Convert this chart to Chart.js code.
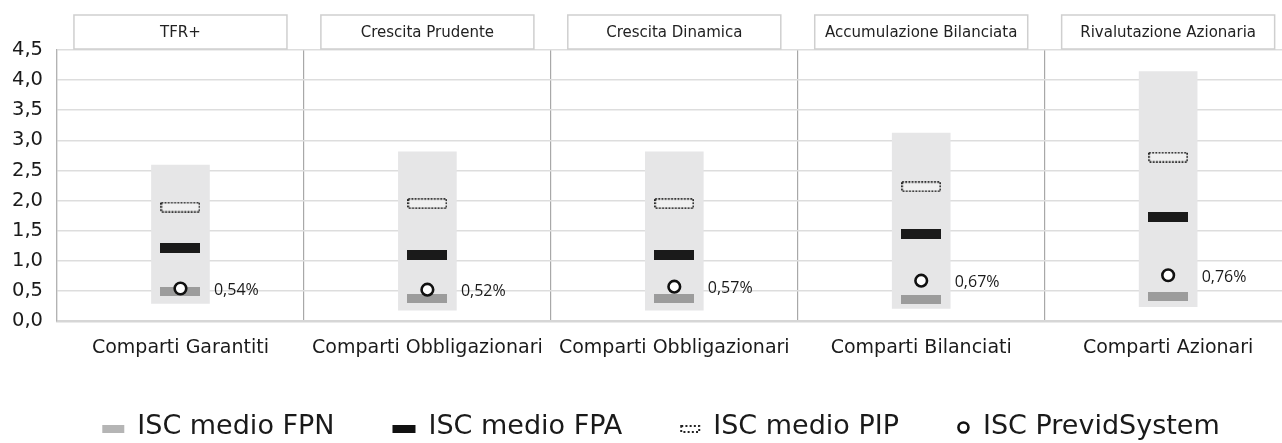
<!DOCTYPE html>
<html><head><meta charset="utf-8">
<script src="https://cdn.jsdelivr.net/npm/chart.js@4.4.1/dist/chart.umd.min.js"></script>
<style>
html,body{margin:0;padding:0;background:#fff;overflow:hidden}
#wrap{width:1300px;height:443px;position:relative}
</style>
</head><body>
<div id="wrap"><canvas id="c"></canvas></div>
<script>
const categories = ['Comparti Garantiti','Comparti Obbligazionari','Comparti Obbligazionari','Comparti Bilanciati','Comparti Azionari'];
const fundNames = ['TFR+','Crescita Prudente','Crescita Dinamica','Accumulazione Bilanciata','Rivalutazione Azionaria'];
const rangeLow  = [0.29, 0.18, 0.18, 0.21, 0.24];
const rangeHigh = [2.59, 2.81, 2.81, 3.12, 4.14];
const iscFPN = [0.49, 0.38, 0.38, 0.35, 0.40];
const iscFPA = [1.22, 1.09, 1.09, 1.45, 1.73];
const iscPIP = [1.89, 1.95, 1.95, 2.23, 2.72];
const iscPrevidSystem = [0.54, 0.52, 0.57, 0.67, 0.76];
const yTicks = [0, 0.5, 1, 1.5, 2, 2.5, 3, 3.5, 4, 4.5];
const legendLabels = ['ISC medio FPN','ISC medio FPA','ISC medio PIP','ISC PrevidSystem'];

const FONT = '"DejaVu Sans", "Liberation Sans", Arial, sans-serif';
const fmt = v => v.toFixed(2).replace('.', ',');

function rectImg(w, h, color) {
  const c = document.createElement('canvas'); c.width = w; c.height = h;
  const g = c.getContext('2d'); g.fillStyle = color; g.fillRect(0, 0, w, h); return c;
}
function dottedImg(w, h, fill) {
  const c = document.createElement('canvas'); c.width = w; c.height = h;
  const g = c.getContext('2d');
  if (fill) { g.fillStyle = fill; g.fillRect(0, 0, w, h); }
  g.strokeStyle = '#222'; g.lineWidth = 1.8; g.setLineDash([1.8, 1.4]);
  g.strokeRect(0.9, 0.9, w - 1.8, h - 1.8); return c;
}
const fpnImg = rectImg(40, 9, '#9c9c9c');
const fpaImg = rectImg(40, 10, '#1a1a1a');
const pipImg = dottedImg(40, 11, '#f0f0f0');

const headerPlugin = {
  id: 'headers',
  afterDraw(chart) {
    const ctx = chart.ctx, xs = chart.scales.x;
    ctx.save();
    ctx.font = '15px ' + FONT; ctx.textAlign = 'center'; ctx.textBaseline = 'middle';
    fundNames.forEach((n, i) => {
      const cx = xs.getPixelForValue(i), w = 213, top = 15, h = 34;
      ctx.fillStyle = '#fff'; ctx.fillRect(cx - w / 2, top, w, h);
      ctx.strokeStyle = '#cfcfcf'; ctx.lineWidth = 1.5; ctx.strokeRect(cx - w / 2, top, w, h);
      ctx.fillStyle = '#222'; ctx.fillText(n, cx, top + h / 2 + 1);
    });
    ctx.restore();
  }
};

const valueLabelPlugin = {
  id: 'valueLabels',
  afterDatasetsDraw(chart) {
    const ctx = chart.ctx;
    const meta = chart.getDatasetMeta(4);
    ctx.save();
    ctx.font = '16px "Open Sans", sans-serif'; ctx.fillStyle = '#1a1a1a';
    ctx.textAlign = 'left'; ctx.textBaseline = 'middle';
    meta.data.forEach((pt, i) => ctx.fillText(fmt(iscPrevidSystem[i]) + '%', pt.x + 33.5, pt.y + 2));
    ctx.restore();
  }
};

const legendPlugin = {
  id: 'customLegend',
  afterDraw(chart) {
    const ctx = chart.ctx;
    ctx.save();
    ctx.font = '27px ' + FONT;
    const markers = [
      {w: 22, draw: (x, y) => { ctx.fillStyle = '#b5b5b5'; ctx.fillRect(x, y - 4, 22, 8); }},
      {w: 23, draw: (x, y) => { ctx.fillStyle = '#111'; ctx.fillRect(x, y - 4, 23, 8); }},
      {w: 20, draw: (x, y) => { ctx.strokeStyle = '#222'; ctx.lineWidth = 2; ctx.setLineDash([2, 2.2]); ctx.strokeRect(x + 1, y - 3, 18, 6); ctx.setLineDash([]); }},
      {w: 13, draw: (x, y) => { ctx.beginPath(); ctx.arc(x + 6.5, y - 1.5, 5, 0, Math.PI * 2); ctx.fillStyle = '#fff'; ctx.fill(); ctx.strokeStyle = '#111'; ctx.lineWidth = 2.6; ctx.stroke(); }}
    ];
    const gap = 13, itemGap = 58;
    const widths = legendLabels.map((t, i) => markers[i].w + gap + ctx.measureText(t).width);
    const total = widths.reduce((a, b) => a + b, 0) + itemGap * (legendLabels.length - 1);
    let x = chart.width / 2 + 11 - total / 2;
    const base = 434, my = 429;
    legendLabels.forEach((t, i) => {
      markers[i].draw(x, my);
      ctx.fillStyle = '#1a1a1a'; ctx.textAlign = 'left'; ctx.textBaseline = 'alphabetic';
      ctx.fillText(t, x + markers[i].w + gap, base);
      x += widths[i] + itemGap;
    });
    ctx.restore();
  }
};

new Chart(document.getElementById('c'), {
  type: 'bar',
  data: {
    labels: categories,
    datasets: [
      { type: 'bar', label: 'range', data: rangeLow.map((l, i) => [l, rangeHigh[i]]),
        backgroundColor: '#e6e6e7', borderWidth: 0, barThickness: 58, order: 5 },
      { type: 'line', label: legendLabels[0], data: iscFPN, showLine: false,
        pointStyle: fpnImg, pointRadius: 6, order: 4 },
      { type: 'line', label: legendLabels[1], data: iscFPA, showLine: false,
        pointStyle: fpaImg, pointRadius: 6, order: 3 },
      { type: 'line', label: legendLabels[2], data: iscPIP, showLine: false,
        pointStyle: pipImg, pointRadius: 6, order: 2 },
      { type: 'line', label: legendLabels[3], data: iscPrevidSystem, showLine: false,
        pointStyle: 'circle', pointRadius: 5.8, pointBorderWidth: 2.6,
        pointBackgroundColor: '#ffffff', pointBorderColor: '#111111', order: 1 }
    ]
  },
  options: {
    responsive: true, maintainAspectRatio: false, animation: false, events: [],
    layout: { padding: { top: 50, left: 0, right: 3, bottom: 82 } },
    plugins: { legend: { display: false }, tooltip: { enabled: false } },
    scales: {
      x: {
        offset: true,
        grid: { offset: true, color: '#a8a8a8', lineWidth: 1.2, drawTicks: false },
        border: { display: true, color: '#d6d6d6', width: 2.5 },
        ticks: { font: { family: FONT, size: 19 }, color: '#1a1a1a', padding: 16, maxRotation: 0, autoSkip: false },
        afterFit(s) { s.height = 40; }
      },
      y: {
        min: 0, max: 4.5,
        afterBuildTicks(s) { s.ticks = yTicks.map(v => ({ value: v })); },
        ticks: { font: { family: FONT, size: 19.5 }, color: '#1a1a1a', padding: 14,
                 callback: v => v.toFixed(1).replace('.', ',') },
        grid: { color: '#dddddd', lineWidth: 1.6, drawTicks: false },
        border: { display: true, color: '#b3b3b3', width: 1.2 },
        afterFit(s) { s.width = 57; }
      }
    }
  },
  plugins: [headerPlugin, valueLabelPlugin, legendPlugin]
});
</script>
</body></html>
